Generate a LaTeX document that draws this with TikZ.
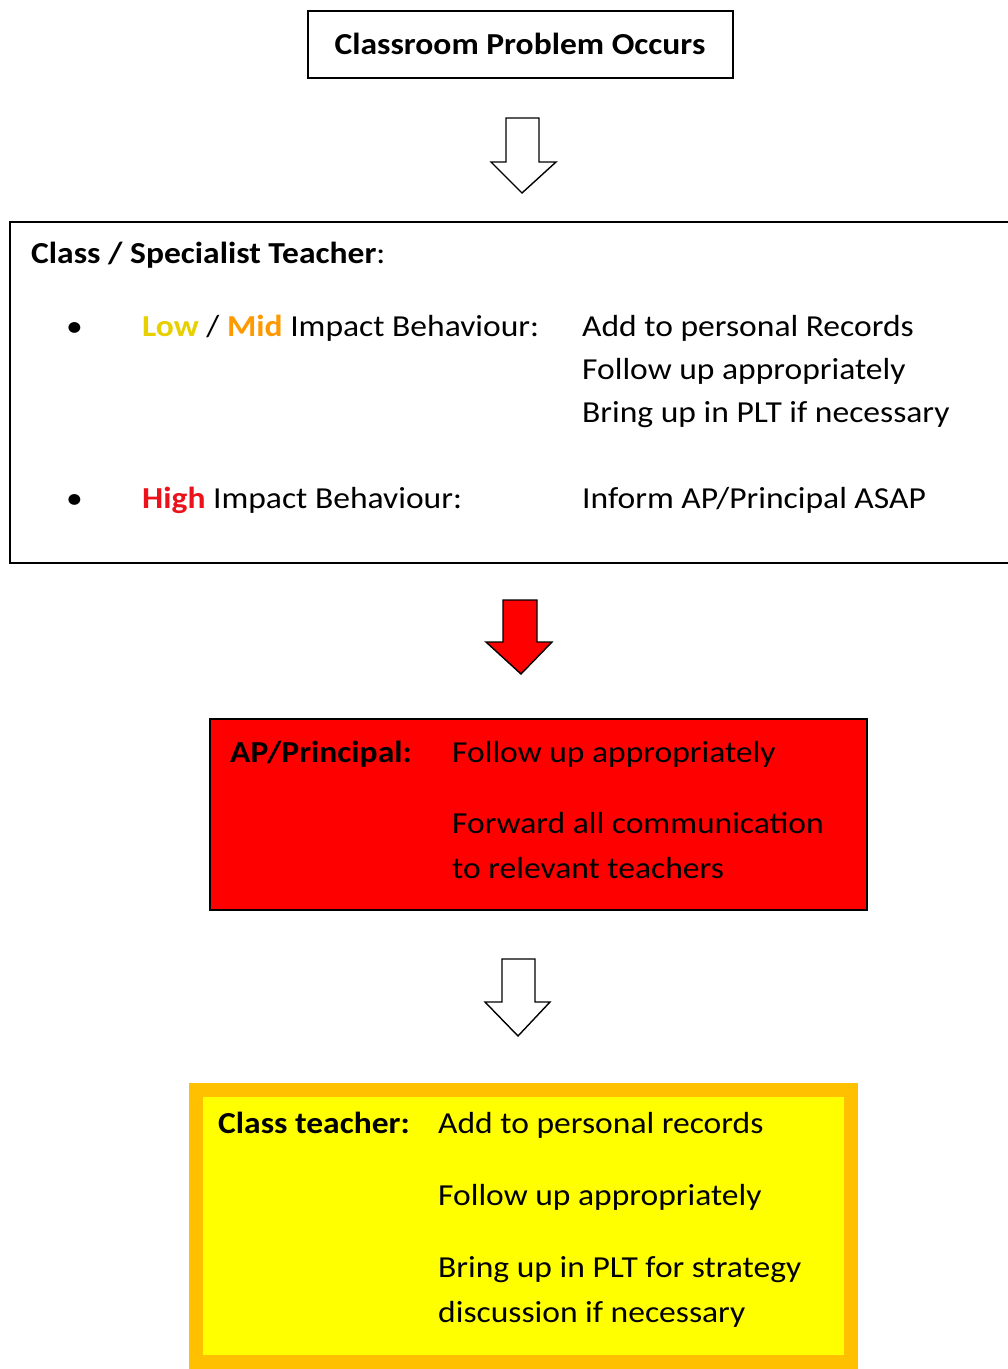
\documentclass[tikz,border=0pt]{standalone}
\usepackage{fontspec}
\setmainfont{Carlito}[FakeStretch=1.1]
\begin{document}
\begin{tikzpicture}[x=1pt,y=-1pt,
  txt/.style={anchor=base west,inner sep=0pt,font=\fontsize{30.5}{36}\selectfont},
  btxt/.style={txt,font=\fontsize{30.5}{36}\selectfont\bfseries},
  hollow/.style={draw=black,line width=1.4pt,fill=white,line join=miter},
]
\definecolor{lowc}{RGB}{232,208,0}
\definecolor{midc}{RGB}{255,153,0}
\definecolor{highc}{RGB}{236,18,28}
\definecolor{apred}{RGB}{255,0,0}
\definecolor{ctyel}{RGB}{255,255,0}
\definecolor{ctorg}{RGB}{255,192,0}
\useasboundingbox (0,0) rectangle (1008,1369);
\fill[white] (0,0) rectangle (1008,1369);

% top box
\draw[line width=1.6pt] (308,11) rectangle (733,78);
\node[font=\fontsize{30.5}{36}\selectfont\bfseries,inner sep=0pt,anchor=base] (top) at (520,54) {Classroom Problem Occurs};

% arrow 1
\draw[hollow] (506,118) -- (539,118) -- (539,162) -- (556,162) -- (522,193) -- (491,162) -- (506,162) -- cycle;

% box 2
\draw[line width=1.6pt] (1012,222) -- (10,222) -- (10,563) -- (1012,563);
\node[btxt] (cls) at (31,263) {Class / Specialist Teacher\mdseries:};
\node[txt] (b1) at (66,336) {\textbullet};
\node[txt] (low) at (142,336) {\textbf{\color{lowc}Low} / \textbf{\color{midc}Mid} Impact Behaviour:};
\node[txt] (r1) at (582,336) {Add to personal Records};
\node[txt] (r2) at (582,379) {Follow up appropriately};
\node[txt] (r3) at (582,422) {Bring up in PLT if necessary};
\node[txt] (b2) at (66,508) {\textbullet};
\node[txt] (high) at (142,508) {\textbf{\color{highc}High} Impact Behaviour:};
\node[txt] (r4) at (582,508) {Inform AP/Principal ASAP};

% red arrow
\draw[line width=1.4pt,fill=apred,line join=miter] (503,600) -- (537,600) -- (537,642) -- (552,642) -- (521,674) -- (486,642) -- (503,642) -- cycle;

% AP box
\draw[line width=1.6pt,fill=apred] (210,719) rectangle (867,910);
\node[btxt] (ap) at (230,762) {AP/Principal:};
\node[txt] (a1) at (452,762) {Follow up appropriately};
\node[txt] (a2) at (452,833) {Forward all communication};
\node[txt] (a3) at (452,878) {to relevant teachers};

% arrow 3
\draw[hollow] (502,959) -- (535,959) -- (535,1002) -- (550,1002) -- (518,1036) -- (485,1002) -- (502,1002) -- cycle;

% class teacher box
\draw[line width=14pt,draw=ctorg,fill=ctyel] (196,1090) rectangle (851,1362);
\node[btxt] (ct) at (218,1133) {Class teacher:};
\node[txt] (c1) at (438,1133) {Add to personal records};
\node[txt] (c2) at (438,1205) {Follow up appropriately};
\node[txt] (c3) at (438,1277) {Bring up in PLT for strategy};
\node[txt] (c4) at (438,1322) {discussion if necessary};
\end{tikzpicture}
\end{document}
